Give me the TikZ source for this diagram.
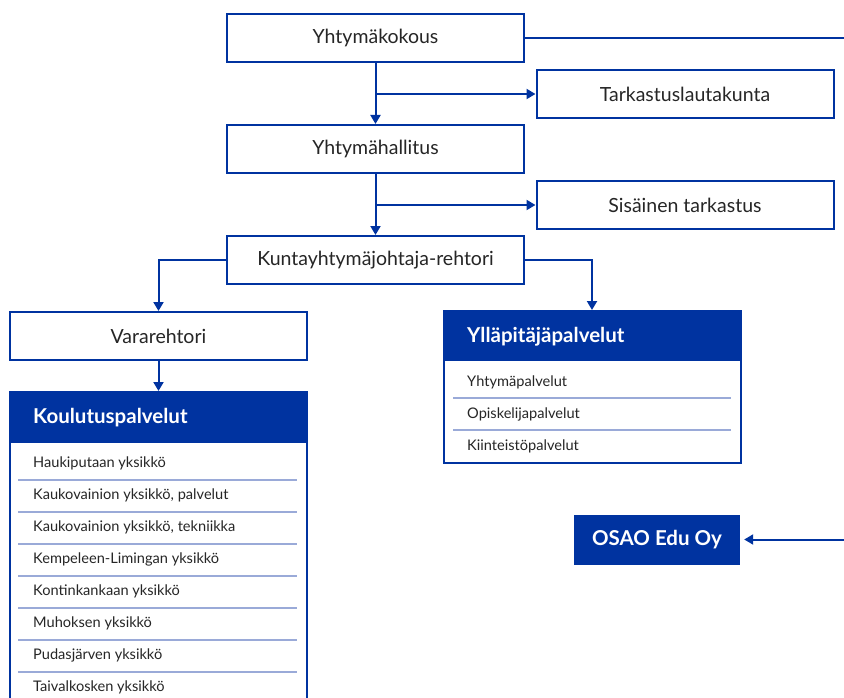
\documentclass[tikz,border=0pt]{standalone}
\usepackage{fontspec}
\setmainfont{Lato}
\usetikzlibrary{arrows.meta,positioning}
\definecolor{osblue}{HTML}{0033A0}
\definecolor{sepblue}{HTML}{9AAAD8}
\tikzset{
  box/.style={draw=osblue,line width=2pt,fill=white,minimum width=297pt,minimum height=48pt,inner sep=0pt,font=\fontsize{19.5}{23}\selectfont,text=black!85},
  conn/.style={draw=osblue,line width=2pt},
  arr/.style={conn,-{Triangle[length=9pt,width=10pt]}},
  head/.style={fill=osblue,text=white,font=\fontsize{20.5}{24}\selectfont\bfseries,anchor=west,inner sep=0pt},
  item/.style={anchor=west,inner sep=0pt,font=\fontsize{14.6}{17}\selectfont,text=black!85},
  sep/.style={draw=sepblue,line width=1.2pt},
}
\begin{document}
\begin{tikzpicture}[x=1pt,y=-1pt]
\useasboundingbox (0,0) rectangle (844,698);
\clip (0,0) rectangle (844,698);
% top chain
\node[box] (kokous) at (375.5,38) {Yhtymäkokous};
\node[box] (tarkla) at (685,94) {Tarkastuslautakunta};
\node[box] (hallitus) at (375.5,149) {Yhtymähallitus};
\node[box] (sisainen) at (685,205) {Sisäinen tarkastus};
\node[box] (rehtori) at (375.5,260) {Kuntayhtymäjohtaja-rehtori};
\node[box] (vara) at (158.5,336) {Vararehtori};
% arrows top
\coordinate (b1) at (375.5,94);
\coordinate (b2) at (375.5,205);
\draw[arr] (kokous.south) -- (hallitus.north);
\draw[arr] (b1) -- (tarkla.west);
\draw[arr] (hallitus.south) -- (rehtori.north);
\draw[arr] (b2) -- (sisainen.west);
\coordinate (redge1) at (846,38);
\draw[conn] (kokous.east) -- (redge1);
% Koulutuspalvelut
\draw[draw=osblue,line width=2pt,fill=white] (10,392) rectangle (307,710);
\fill[osblue] (10,392) rectangle (307,443);
\node[head] (koul) at (33,417.5) {Koulutuspalvelut};
\coordinate (koultop) at (158.5,391);
\foreach \t [count=\i from 0] in {Haukiputaan yksikkö,{Kaukovainion yksikkö, palvelut},{Kaukovainion yksikkö, tekniikka},Kempeleen-Limingan yksikkö,Kontinkankaan yksikkö,Muhoksen yksikkö,Pudasjärven yksikkö,Taivalkosken yksikkö}{
  \node[item] (k\i) at (33,{463+32*\i}) {\t};
}
\foreach \i in {0,...,6}{
  \draw[sep] (18,{480+32*\i}) -- (297,{480+32*\i});
}
% Yllapitajapalvelut
\draw[draw=osblue,line width=2pt,fill=white] (444,311) rectangle (741,463);
\fill[osblue] (444,311) rectangle (741,361);
\node[head] (yllap) at (467,336.5) {Ylläpitäjäpalvelut};
\coordinate (ylltop) at (592,310);
\node[item] (y0) at (467,382) {Yhtymäpalvelut};
\node[item] (y1) at (467,414) {Opiskelijapalvelut};
\node[item] (y2) at (467,446) {Kiinteistöpalvelut};
\draw[sep] (453,398) -- (731,398);
\draw[sep] (453,430) -- (731,430);
% rehtori branches
\draw[arr] (rehtori.west) -| (vara.north);
\draw[arr] (rehtori.east) -| (ylltop);
\draw[arr] (vara.south) -- (koultop);
% OSAO
\node[fill=osblue,text=white,minimum width=166pt,minimum height=50pt,inner sep=0pt,font=\fontsize{20.5}{24}\selectfont\bfseries] (osao) at (657,539.5) {OSAO Edu Oy};
\coordinate (redge2) at (846,539.5);
\draw[conn,-{Triangle[length=9pt,width=10pt]}] (redge2) -- ([xshift=4pt]osao.east);
\end{tikzpicture}
\end{document}
